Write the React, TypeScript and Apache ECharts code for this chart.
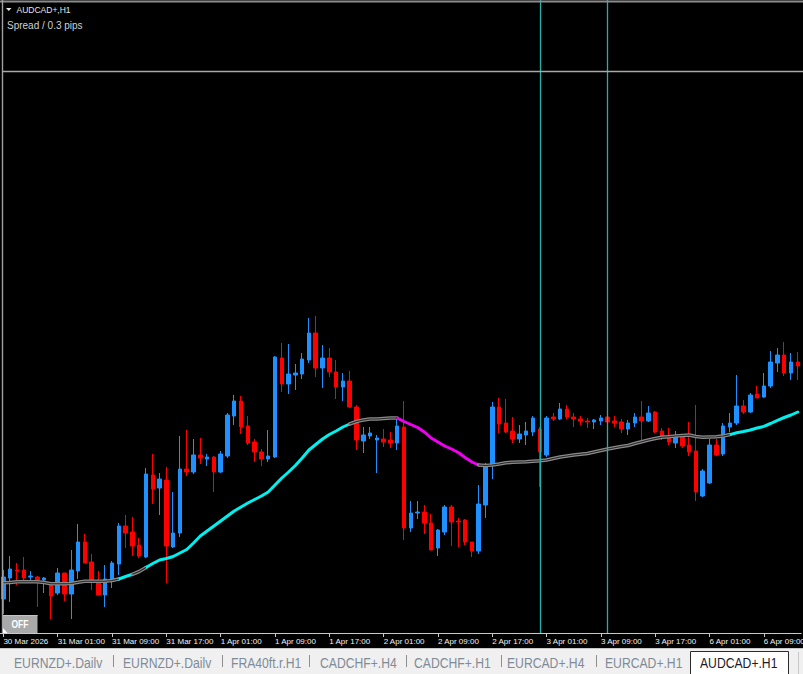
import React, { useEffect, useRef } from "react";
import * as echarts from "echarts";

// ---------- DATA ----------
const symbolTitle = "AUDCAD+,H1";
const spreadText = "Spread / 0.3 pips";
const tickLabels = [
  "30 Mar 2026", "31 Mar 01:00", "31 Mar 09:00", "31 Mar 17:00", "1 Apr 01:00",
  "1 Apr 09:00", "1 Apr 17:00", "2 Apr 01:00", "2 Apr 09:00", "2 Apr 17:00",
  "3 Apr 01:00", "3 Apr 09:00", "3 Apr 17:00", "6 Apr 01:00", "6 Apr 09:00",
];
const openPrices = [
  0.9101, 0.9122, 0.9130, 0.9130, 0.9123, 0.9123, 0.9120, 0.9115, 0.9107, 0.9127,
  0.9106, 0.9129, 0.9158, 0.9138, 0.9119, 0.9105, 0.9120, 0.9136, 0.9174, 0.9168,
  0.9155, 0.9143, 0.9225, 0.9212, 0.9220, 0.9153, 0.9167, 0.9231, 0.9228, 0.9245,
  0.9241, 0.9243, 0.9228, 0.9244, 0.9284, 0.9299, 0.9274, 0.9258, 0.9248, 0.9241,
  0.9243, 0.9342, 0.9316, 0.9325, 0.9326, 0.9340, 0.9367, 0.9332, 0.9342, 0.9328,
  0.9313, 0.9319, 0.9293, 0.9259, 0.9264, 0.9260, 0.9261, 0.9260, 0.9257, 0.9273,
  0.9172, 0.9187, 0.9188, 0.9177, 0.9152, 0.9168, 0.9193, 0.9179, 0.9180, 0.9158,
  0.9149, 0.9195, 0.9236, 0.9293, 0.9277, 0.9269, 0.9261, 0.9265, 0.9268, 0.9271,
  0.9245, 0.9283, 0.9281, 0.9291, 0.9283, 0.9281, 0.9279, 0.9278, 0.9279, 0.9283,
  0.9279, 0.9278, 0.9271, 0.9277, 0.9283, 0.9279, 0.9288, 0.9269, 0.9263, 0.9257,
  0.9263, 0.9255, 0.9249, 0.9204, 0.9217, 0.9255, 0.9246, 0.9273, 0.9277, 0.9294,
  0.9288, 0.9306, 0.9303, 0.9314, 0.9337, 0.9345, 0.9327, 0.9338,
];
const closePrices = [
  0.9123, 0.9131, 0.9129, 0.9122, 0.9124, 0.9120, 0.9122, 0.9104, 0.9127, 0.9106,
  0.9130, 0.9158, 0.9137, 0.9120, 0.9105, 0.9121, 0.9137, 0.9174, 0.9167, 0.9154,
  0.9144, 0.9226, 0.9211, 0.9221, 0.9154, 0.9167, 0.9231, 0.9228, 0.9245, 0.9242,
  0.9243, 0.9228, 0.9246, 0.9285, 0.9299, 0.9273, 0.9257, 0.9248, 0.9241, 0.9244,
  0.9343, 0.9316, 0.9326, 0.9327, 0.9341, 0.9367, 0.9332, 0.9342, 0.9328, 0.9313,
  0.9319, 0.9293, 0.9260, 0.9265, 0.9267, 0.9262, 0.9258, 0.9257, 0.9274, 0.9172,
  0.9187, 0.9188, 0.9177, 0.9150, 0.9170, 0.9193, 0.9178, 0.9178, 0.9158, 0.9149,
  0.9196, 0.9234, 0.9293, 0.9276, 0.9268, 0.9261, 0.9266, 0.9269, 0.9282, 0.9248,
  0.9282, 0.9281, 0.9291, 0.9283, 0.9281, 0.9279, 0.9278, 0.9280, 0.9282, 0.9278,
  0.9277, 0.9271, 0.9277, 0.9283, 0.9279, 0.9287, 0.9268, 0.9263, 0.9258, 0.9263,
  0.9254, 0.9248, 0.9208, 0.9229, 0.9255, 0.9245, 0.9274, 0.9277, 0.9294, 0.9288,
  0.9305, 0.9302, 0.9314, 0.9338, 0.9345, 0.9327, 0.9338, 0.9334,
];
const highPrices = [
  0.9130, 0.9144, 0.9137, 0.9143, 0.9129, 0.9124, 0.9123, 0.9117, 0.9132, 0.9127,
  0.9150, 0.9176, 0.9166, 0.9146, 0.9129, 0.9135, 0.9139, 0.9177, 0.9185, 0.9183,
  0.9162, 0.9232, 0.9246, 0.9227, 0.9233, 0.9208, 0.9264, 0.9270, 0.9261, 0.9262,
  0.9246, 0.9244, 0.9249, 0.9287, 0.9305, 0.9304, 0.9284, 0.9261, 0.9251, 0.9270,
  0.9344, 0.9357, 0.9356, 0.9336, 0.9347, 0.9382, 0.9384, 0.9355, 0.9352, 0.9340,
  0.9327, 0.9329, 0.9295, 0.9273, 0.9273, 0.9265, 0.9271, 0.9268, 0.9283, 0.9299,
  0.9199, 0.9199, 0.9195, 0.9186, 0.9171, 0.9195, 0.9195, 0.9182, 0.9181, 0.9158,
  0.9215, 0.9237, 0.9298, 0.9302, 0.9301, 0.9283, 0.9275, 0.9278, 0.9284, 0.9273,
  0.9284, 0.9287, 0.9297, 0.9295, 0.9287, 0.9284, 0.9282, 0.9281, 0.9285, 0.9295,
  0.9284, 0.9281, 0.9280, 0.9287, 0.9299, 0.9294, 0.9289, 0.9272, 0.9272, 0.9269,
  0.9266, 0.9278, 0.9295, 0.9231, 0.9261, 0.9261, 0.9277, 0.9287, 0.9325, 0.9300,
  0.9307, 0.9314, 0.9327, 0.9349, 0.9352, 0.9358, 0.9347, 0.9348,
];
const lowPrices = [
  0.9086, 0.9098, 0.9115, 0.9118, 0.9117, 0.9093, 0.9107, 0.9081, 0.9105, 0.9099,
  0.9081, 0.9121, 0.9137, 0.9110, 0.9105, 0.9093, 0.9112, 0.9125, 0.9152, 0.9144,
  0.9142, 0.9142, 0.9196, 0.9185, 0.9117, 0.9152, 0.9163, 0.9224, 0.9226, 0.9236,
  0.9234, 0.9208, 0.9227, 0.9242, 0.9275, 0.9266, 0.9255, 0.9238, 0.9234, 0.9238,
  0.9242, 0.9308, 0.9306, 0.9310, 0.9321, 0.9337, 0.9323, 0.9312, 0.9323, 0.9301,
  0.9299, 0.9292, 0.9250, 0.9247, 0.9261, 0.9227, 0.9253, 0.9252, 0.9250, 0.9160,
  0.9168, 0.9181, 0.9166, 0.9150, 0.9144, 0.9165, 0.9154, 0.9153, 0.9155, 0.9143,
  0.9146, 0.9182, 0.9221, 0.9267, 0.9267, 0.9257, 0.9257, 0.9255, 0.9264, 0.9213,
  0.9243, 0.9279, 0.9280, 0.9281, 0.9273, 0.9275, 0.9272, 0.9271, 0.9275, 0.9272,
  0.9273, 0.9267, 0.9265, 0.9273, 0.9260, 0.9278, 0.9267, 0.9260, 0.9255, 0.9252,
  0.9252, 0.9244, 0.9199, 0.9203, 0.9216, 0.9244, 0.9244, 0.9268, 0.9275, 0.9286,
  0.9287, 0.9302, 0.9302, 0.9312, 0.9328, 0.9324, 0.9320, 0.9320,
];
const maValues = [
  0.91173, 0.91175, 0.91183, 0.91183, 0.91183, 0.91183, 0.91175, 0.91163, 0.91163, 0.91163,
  0.91165, 0.91177, 0.91187, 0.91187, 0.91187, 0.91187, 0.91195, 0.9121, 0.91235, 0.91257,
  0.91285, 0.91325, 0.91365, 0.914, 0.91415, 0.91435, 0.9147, 0.91505, 0.9157, 0.9164,
  0.9169, 0.9174, 0.9179, 0.9184, 0.9189, 0.9193, 0.9197, 0.92005, 0.9204, 0.9208,
  0.9215, 0.9222, 0.9228, 0.92345, 0.9242, 0.925, 0.92555, 0.9261, 0.92655, 0.9269,
  0.9273, 0.9276, 0.92785, 0.928, 0.9281, 0.9281, 0.92815, 0.9282, 0.9282, 0.92785,
  0.92755, 0.92725, 0.9268, 0.9262, 0.9258, 0.9254, 0.9251, 0.92475, 0.92425, 0.9238,
  0.9235, 0.92345, 0.9235, 0.9236, 0.92373, 0.92377, 0.9238, 0.92383, 0.92388, 0.92393,
  0.924, 0.92415, 0.9243, 0.9244, 0.9245, 0.92457, 0.92465, 0.9248, 0.92495, 0.9251,
  0.92523, 0.92535, 0.92545, 0.92565, 0.92583, 0.926, 0.92615, 0.92627, 0.92633, 0.9264,
  0.92645, 0.9265, 0.92635, 0.92627, 0.9263, 0.92632, 0.9264, 0.92654, 0.92672, 0.92685,
  0.927, 0.9272, 0.92736, 0.92765, 0.92797, 0.92825, 0.9285, 0.9288,
];
// MA colour changes: segment k runs from bar trendBreaks[k] to bar trendBreaks[k+1]
const trendBreaks = [0, 17, 19, 21, 51, 58, 70, 107, 117];
const trendKinds = ["flat", "up", "flat", "up", "flat", "down", "flat", "up"];
const verticalLineBars = [79, 89];
const tabs = [
  "EURNZD+.Dailv", "EURNZD+.Dailv", "FRA40ft.r.H1", "CADCHF+.H4",
  "CADCHF+.H1", "EURCAD+.H4", "EURCAD+.H1", "AUDCAD+.H1",
];
const activeTabIndex = 7;

// ---------- LAYOUT / STYLE ----------
const W = 803;
const H = 674;
const AXIS_Y = 633;
const tabTextX = [14, 123, 231, 320, 414, 507, 605, 700];
const tabSepX = [113.5, 222.5, 309.5, 406.5, 501.5, 596.5];
const FONT = "'Liberation Sans', Arial, sans-serif";
const BULL = "#1E90FF";
const BEAR = "#FF0000";
const TREND_COLORS: Record<string, string> = { up: "#00F0F0", down: "#F000F0", flat: "#8A8A8A" };

const MONTHS = ["Jan", "Feb", "Mar", "Apr", "May", "Jun", "Jul", "Aug", "Sep", "Oct", "Nov", "Dec"];
function buildCategories(n: number): string[] {
  const out: string[] = [];
  let t = Date.UTC(2026, 2, 30, 17);
  for (let i = 0; i < n; i++) {
    const d = new Date(t);
    const hh = String(d.getUTCHours()).padStart(2, "0");
    out.push(`${d.getUTCDate()} ${MONTHS[d.getUTCMonth()]} ${hh}:00`);
    t += 3600000;
    if (new Date(t).getUTCDay() === 6) t += 48 * 3600000; // skip weekend
  }
  return out;
}

function buildOption() {
  const n = openPrices.length;
  const categories = buildCategories(n);
  const candles = openPrices.map((o, i) => [o, closePrices[i], lowPrices[i], highPrices[i]]);

  const series: any[] = [];
  // vertical lines (behind candles)
  series.push({
    type: "line",
    data: [],
    silent: true,
    z: 1,
    markLine: {
      silent: true,
      symbol: ["none", "none"],
      label: { show: false },
      lineStyle: { color: "#20B2AA", width: 1.3, type: "solid" },
      emphasis: { disabled: true },
      data: verticalLineBars.map((b) => ({ xAxis: categories[b] })),
    },
  });
  series.push({
    type: "candlestick",
    data: candles,
    barWidth: 4,
    silent: true,
    z: 2,
    itemStyle: {
      color: BULL,
      color0: BEAR,
      borderColor: BULL,
      borderColor0: BEAR,
      borderWidth: 1,
    },
    emphasis: { disabled: true },
  });
  for (let k = 0; k < trendKinds.length; k++) {
    const a = trendBreaks[k];
    const b = trendBreaks[k + 1];
    const data = maValues.map((v, i) => (i >= a && i <= b ? v : "-"));
    const kind = trendKinds[k];
    series.push({
      type: "line",
      data,
      symbol: "none",
      showSymbol: false,
      silent: true,
      z: 3,
      lineStyle: { width: kind === "flat" ? 3.6 : 3, color: TREND_COLORS[kind], cap: "round", join: "round" },
      emphasis: { disabled: true },
    });
    if (kind === "flat") {
      series.push({
        type: "line",
        data,
        symbol: "none",
        showSymbol: false,
        silent: true,
        z: 4,
        lineStyle: { width: 1.1, color: "#262626", join: "round" },
        emphasis: { disabled: true },
      });
    }
  }

  const graphic: any[] = [];
  // chart frame lines
  graphic.push({ type: "line", silent: true, z: 50, shape: { x1: 0, y1: 1.5, x2: W, y2: 1.5 }, style: { stroke: "#8C8C8C", lineWidth: 2 } });
  graphic.push({ type: "line", silent: true, z: 50, shape: { x1: 2.5, y1: 0, x2: 2.5, y2: AXIS_Y }, style: { stroke: "#A0A0A0", lineWidth: 1.4 } });
  graphic.push({ type: "line", silent: true, z: 50, shape: { x1: 2, y1: 71.5, x2: W, y2: 71.5 }, style: { stroke: "#A8A8A8", lineWidth: 1.5 } });
  // title
  graphic.push({ type: "polygon", silent: true, z: 50, shape: { points: [[6, 8], [11.5, 8], [8.75, 11]] }, style: { fill: "#E8E8E8" } });
  graphic.push({
    type: "text", silent: true, z: 50, x: 16.5, y: 9.5,
    style: { text: symbolTitle, fill: "#E6E6E6", fontSize: 8.5, fontFamily: FONT, verticalAlign: "middle", textVerticalAlign: "middle" },
  });
  graphic.push({
    type: "text", silent: true, z: 50, x: 7, y: 25.5,
    style: { text: spreadText, fill: "#D0D0D0", fontSize: 10, fontFamily: FONT, verticalAlign: "middle", textVerticalAlign: "middle" },
  });
  // OFF button
  graphic.push({ type: "rect", silent: true, z: 50, shape: { x: 3, y: 615, width: 34.5, height: 18 }, style: { fill: "#A9A9A9" } });
  graphic.push({ type: "line", silent: true, z: 51, shape: { x1: 3, y1: 615.5, x2: 37.5, y2: 615.5 }, style: { stroke: "#C4C4C4", lineWidth: 1 } });
  graphic.push({ type: "polygon", silent: true, z: 51, shape: { points: [[3, 628], [3, 633], [7.5, 633]] }, style: { fill: "#FFFFFF" } });
  graphic.push({
    type: "text", silent: true, z: 52, x: 20, y: 625, scaleX: 0.85,
    style: { text: "OFF", fill: "#FFFFFF", fontSize: 10, fontWeight: "bold", fontFamily: FONT, align: "center", textAlign: "center", verticalAlign: "middle", textVerticalAlign: "middle" },
  });
  // tab bar
  graphic.push({ type: "rect", silent: true, z: 50, shape: { x: 0, y: 648, width: W, height: H - 648 }, style: { fill: "#F0F0F0" } });
  graphic.push({ type: "line", silent: true, z: 51, shape: { x1: 0, y1: 648.5, x2: W, y2: 648.5 }, style: { stroke: "#C8C8C8", lineWidth: 1 } });
  tabSepX.forEach((x) => {
    graphic.push({ type: "line", silent: true, z: 51, shape: { x1: x, y1: 655, x2: x, y2: 667 }, style: { stroke: "#8E8E8E", lineWidth: 1 } });
  });
  const ax = tabTextX[activeTabIndex] - 9.5;
  graphic.push({ type: "rect", silent: true, z: 51, shape: { x: ax, y: 651.5, width: 98, height: 30 }, style: { fill: "#FFFFFF", stroke: "#2B2B2B", lineWidth: 1 } });
  graphic.push({ type: "line", silent: true, z: 51, shape: { x1: 798.5, y1: 652, x2: 798.5, y2: H }, style: { stroke: "#C8C8C8", lineWidth: 1 } });
  tabs.forEach((t, i) => {
    graphic.push({
      type: "text", silent: true, z: 53, x: tabTextX[i], y: 663.5, scaleX: 0.87,
      style: {
        text: t,
        fill: i === activeTabIndex ? "#1A1A2A" : "#7F8B97",
        fontSize: 14,
        fontFamily: FONT,
        verticalAlign: "middle",
        textVerticalAlign: "middle",
      },
    });
  });

  return {
    animation: false,
    backgroundColor: "#000000",
    textStyle: { fontFamily: FONT },
    grid: { left: 0, top: 0, width: 801.2, height: AXIS_Y, containLabel: false, outerBoundsMode: "none" },
    xAxis: {
      type: "category",
      data: categories,
      boundaryGap: true,
      axisLine: { show: true, lineStyle: { color: "#C8C8C8", width: 1 } },
      axisTick: { show: true, alignWithLabel: true, interval: 7, length: 4, lineStyle: { color: "#C8C8C8" } },
      axisLabel: {
        show: true,
        interval: 7,
        align: "left",
        margin: 4,
        fontSize: 8,
        color: "#F2F2F2",
        fontFamily: FONT,
        formatter: (_v: string, idx: number) => (idx % 8 === 0 ? tickLabels[idx / 8] ?? "" : ""),
      },
      splitLine: { show: false },
    },
    yAxis: {
      type: "value",
      min: 0.9067,
      max: 0.97,
      show: false,
      splitLine: { show: false },
    },
    series,
    graphic,
  };
}

export default function App() {
  const ref = useRef<HTMLDivElement>(null);
  useEffect(() => {
    if (!ref.current) return;
    const chart = echarts.init(ref.current, undefined, { renderer: "svg" });
    chart.setOption(buildOption() as any);
    return () => chart.dispose();
  }, []);
  return (
    <div
      ref={ref}
      style={{ position: "absolute", left: 0, top: 0, width: W, height: H, background: "#000" }}
    />
  );
}
